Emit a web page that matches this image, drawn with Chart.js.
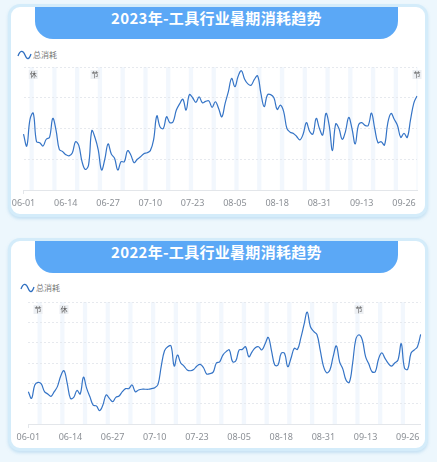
<!DOCTYPE html>
<html>
<head>
<meta charset="utf-8">
<script src="https://cdn.jsdelivr.net/npm/chart.js@4/dist/chart.umd.min.js"></script>
<style>
  body { margin: 0; width: 437px; height: 462px; background: #edf7fd; position: relative; overflow: hidden; }
  .card { position: absolute; left: 8px; width: 420px; height: 213px; box-sizing: border-box;
          border: 3px solid #d4ecfa; border-radius: 12px; background: #fff;
          box-shadow: 0 2px 3px rgba(160, 205, 235, .5); }
  .banner { position: absolute; left: 35px; width: 363px; height: 32px; background: #5ba8f6;
            border-radius: 0 0 18px 18px; color: #fff; text-align: center; line-height: 32px;
            font: bold 15px "Noto Sans CJK SC", sans-serif; letter-spacing: 0.3px; }
  .legend { position: absolute; display: flex; align-items: center; color: #777;
            font: 8px "Noto Sans CJK SC", sans-serif; }
  .legend svg { margin-right: 1px; }
  canvas { position: absolute; left: 0; }
</style>
</head>
<body>
<div class="card" style="top:4px"></div>
<div class="banner" style="top:7px">2023年-工具行业暑期消耗趋势</div>
<div class="legend" style="left:17px;top:49px">
  <svg width="15" height="10"><path d="M1 6 C3 0,6 0,8 5 S12 10,14 4" stroke="#2f6fc0" stroke-width="1.3" fill="none"/></svg>总消耗
</div>
<canvas id="chart2023" width="437" height="170" style="top:45px"></canvas>

<div class="card" style="top:238px"></div>
<div class="banner" style="top:241px">2022年-工具行业暑期消耗趋势</div>
<div class="legend" style="left:20px;top:282px">
  <svg width="15" height="10"><path d="M1 6 C3 0,6 0,8 5 S12 10,14 4" stroke="#2f6fc0" stroke-width="1.3" fill="none"/></svg>总消耗
</div>
<canvas id="chart2022" width="437" height="170" style="top:280px"></canvas>

<script>
// 06-01 .. 09-30
const dates = [];
[[6, 30], [7, 31], [8, 31], [9, 30]].forEach(([m, n]) => {
  for (let d = 1; d <= n; d++) dates.push(String(m).padStart(2, '0') + '-' + String(d).padStart(2, '0'));
});

const tickLabels = ['06-01', '06-14', '06-27', '07-10', '07-23', '08-05', '08-18', '08-31', '09-13', '09-26'];

const total2023 = [
  1.82, 1.43, 2.3, 2.5, 1.57, 1.54, 1.43, 1.65, 1.71, 2.33,
  1.95, 1.32, 1.25, 1.15, 1.11, 1.2, 1.57, 1.45, 0.92, 0.67,
  0.81, 1.93, 1.7, 1.3, 0.65, 1.0, 1.5, 1.17, 1.03, 0.65,
  0.92, 0.92, 1.28, 1.14, 0.89, 1.0, 1.08, 1.18, 1.21, 1.28,
  1.63, 2.41, 2.05, 2.0, 2.38, 2.19, 2.22, 2.6, 2.8, 2.95,
  2.6, 3.1, 3.0, 2.85, 3.03, 2.84, 2.88, 2.9, 2.69, 2.87,
  2.65, 2.38, 2.82, 3.2, 3.63, 3.36, 3.7, 3.88, 3.6, 3.45,
  3.41, 3.6, 3.71, 3.14, 2.71, 3.09, 3.1, 3.0, 2.62, 2.76,
  2.55, 2.0, 1.88, 1.84, 1.74, 1.63, 1.82, 2.19, 1.9, 1.82,
  2.33, 2.0, 1.79, 2.49, 2.1, 1.28, 2.15, 2.0, 1.65, 1.9,
  2.36, 2.0, 1.5, 2.11, 2.19, 2.1, 2.1, 2.5, 2.0, 1.54,
  1.57, 1.46, 2.17, 2.49, 2.3, 2.1, 1.71, 1.84, 1.71, 2.28,
  2.82, 3.06
];

const total2022 = [
  1.59, 1.26, 1.92, 2.05, 1.97, 1.59, 1.48, 1.36, 1.59, 1.85,
  2.36, 2.62, 2.0, 1.26, 1.31, 1.65, 1.48, 2.3, 1.75, 1.34,
  0.93, 0.89, 0.66, 0.93, 1.43, 1.26, 1.1, 1.31, 1.38, 1.59,
  1.74, 1.74, 1.92, 1.59, 1.67, 1.71, 1.71, 1.71, 1.74, 1.78,
  1.95, 2.85, 3.6, 3.8, 3.84, 2.85, 3.39, 3.0, 2.85, 2.66,
  2.62, 2.68, 2.85, 2.93, 2.78, 2.46, 2.48, 2.55, 3.0, 3.06,
  3.39, 3.56, 3.64, 3.06, 3.11, 3.64, 3.67, 3.8, 3.31, 3.55,
  3.75, 3.8, 3.64, 3.93, 4.26, 3.6, 2.9, 2.9, 3.48, 3.48,
  2.82, 3.23, 3.72, 3.67, 4.21, 4.87, 5.5, 4.78, 4.55, 4.4,
  3.65, 2.85, 2.52, 2.66, 3.31, 3.84, 3.05, 2.7, 2.15, 2.05,
  2.98, 4.17, 4.38, 4.13, 3.31, 2.95, 2.57, 2.57, 3.2, 3.5,
  3.23, 2.98, 2.85, 3.0, 3.15, 3.95, 2.75, 2.69, 3.48, 3.64,
  3.8, 4.41
];

const marks2023 = [['06-04', '休'], ['06-23', '节'], ['09-30', '节']];
const marks2022 = [['06-04', '节'], ['06-12', '休'], ['09-11', '节']];

// faint column behind every weekend
const weekendBands = {
  id: 'bands',
  beforeDraw(chart, args, opts) {
    const { ctx, chartArea: a, scales: { x } } = chart;
    ctx.save();
    ctx.fillStyle = 'rgba(222, 236, 251, 0.4)';
    dates.forEach((d, i) => {
      const [m, day] = d.split('-').map(Number);
      if (new Date(opts.year, m - 1, day).getDay() !== 6) return;
      const x0 = x.getPixelForValue(i) - 0.5;
      const x1 = x.getPixelForValue(Math.min(i + 1, dates.length - 1)) + 0.5;
      ctx.fillRect(x0, a.top, x1 - x0, a.bottom - a.top);
    });
    ctx.restore();
  }
};

// small 休 / 节 tags at the top of the plot
const holidayTags = {
  id: 'tags',
  afterDatasetsDraw(chart, args, opts) {
    const { ctx, chartArea: a, scales: { x } } = chart;
    ctx.save();
    ctx.font = '7px "Noto Sans CJK SC"';
    ctx.textAlign = 'center';
    ctx.textBaseline = 'middle';
    opts.items.forEach(([d, t]) => {
      const cx = Math.min(x.getPixelForValue(dates.indexOf(d)), a.right + 2);
      ctx.fillStyle = '#eceff3';
      ctx.fillRect(cx - 4.5, a.top + 3, 9, 9);
      ctx.fillStyle = '#555';
      ctx.fillText(t, cx, a.top + 7.5);
    });
    ctx.restore();
  }
};

function makeChart(id, values, yMax, year, marks, pad) {
  return new Chart(document.getElementById(id), {
    type: 'line',
    data: {
      labels: dates,
      datasets: [{
        label: '总消耗',
        data: values,
        borderColor: '#3574c6',
        borderWidth: 1.2,
        pointRadius: 0,
        tension: 0.4,
        fill: false
      }]
    },
    options: {
      responsive: false,
      animation: false,
      layout: { padding: pad },
      plugins: {
        legend: { display: false },
        tooltip: { enabled: false },
        bands: { year: year },
        tags: { items: marks }
      },
      scales: {
        x: {
          grid: {
            drawOnChartArea: false,
            tickLength: 4,
            color: c => tickLabels.includes(dates[c.index]) ? '#e3e6ea' : 'transparent'
          },
          border: { color: '#e3e6ea' },
          ticks: {
            autoSkip: false, maxRotation: 0, padding: 4, color: '#8c9096',
            font: { size: 9, family: '"Noto Sans", sans-serif' },
            callback: (v, i) => tickLabels.includes(dates[i]) ? dates[i] : null
          },
          afterFit: s => { s.height = 20; }
        },
        y: {
          min: 0, max: yMax,
          ticks: { display: false, stepSize: 1 },
          grid: { color: '#e6e9ee', drawTicks: false },
          border: { display: false, dash: [2, 2] },
          afterFit: s => { s.width = 0; }
        }
      }
    },
    plugins: [weekendBands, holidayTags]
  });
}

makeChart('chart2023', total2023, 4, 2023, marks2023, { left: 23.5, right: 20, top: 22, bottom: 5 });
makeChart('chart2022', total2022, 6, 2022, marks2022, { left: 28.3, right: 16.3, top: 22, bottom: 6 });
</script>
</body>
</html>
